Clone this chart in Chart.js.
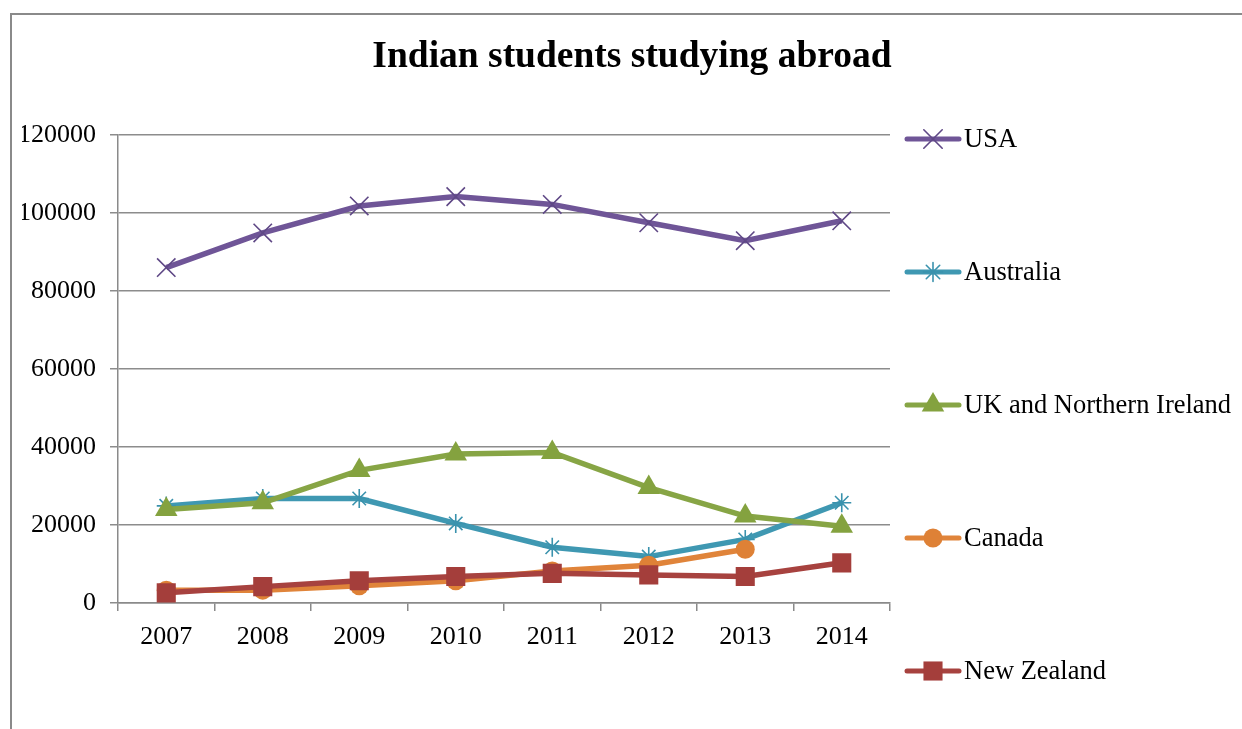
<html>
<head>
  <script src="https://cdn.jsdelivr.net/npm/chart.js@4/dist/chart.umd.min.js"></script>
  <style>
    body { margin: 0; background: #fff; }
    #wrap { position: relative; width: 1242px; height: 729px; }
    #frame { position: absolute; left: 10px; top: 13px; width: 1300px; height: 800px;
             border-left: 2px solid #8a8a8a; border-top: 2px solid #8a8a8a; }
  </style>
</head>
<body>
<div id="wrap">
  <div id="frame"></div>
  <canvas id="myChart"></canvas>
</div>
<script>

const years = ['2007', '2008', '2009', '2010', '2011', '2012', '2013', '2014'];

const usa       = [86000, 94900, 101800, 104200, 102200, 97500, 92900, 98000];
const australia = [24900, 26800, 26800, 20400, 14300, 11900, 16300, 25700];
const uk        = [24000, 25700, 34000, 38200, 38600, 29600, 22300, 19700];
const canada    = [3300, 3300, 4400, 5700, 8200, 9700, 13800, null];
const newZealand = [2600, 4200, 5700, 6800, 7600, 7200, 6800, 10300];

const yTicks = [0, 20000, 40000, 60000, 80000, 100000, 120000];

const serif = '"Liberation Serif", "Times New Roman", serif';

function series(label, values, color, markerColor, style, radius, order) {
  return {
    label: label,
    data: values,
    borderColor: color,
    backgroundColor: color,
    borderWidth: 5.5,
    pointStyle: style,
    pointRadius: radius,
    pointHoverRadius: radius,
    pointBackgroundColor: markerColor,
    pointBorderColor: markerColor,
    pointBorderWidth: (style === 'crossRot' || style === 'star') ? 1.6 : 0,
    tension: 0,
    order: order
  };
}

const data = {
  labels: years,
  datasets: [
    series('USA', usa, '#6f5597', '#5f4886', 'crossRot', 13, 4),
    series('Australia', australia, '#3f98b2', '#3a92ad', 'star', 9.5, 3),
    series('UK and Northern Ireland', uk, '#87a545', '#84a23f', 'triangle', 13, 2),
    series('Canada', canada, '#e0843a', '#de8136', 'circle', 9.5, 1),
    series('New Zealand', newZealand, '#a7423f', '#a43e3b', 'rect', 13.5, 0)
  ]
};

// legend on the right: short line with the series marker, then the name
const sideLegend = {
  id: 'sideLegend',
  afterDraw(chart) {
    const ctx = chart.ctx;
    chart.data.datasets.forEach((ds, i) => {
      const y = 139 + i * 133;
      ctx.save();
      ctx.strokeStyle = ds.borderColor;
      ctx.lineWidth = 5;
      ctx.lineCap = 'round';
      ctx.beginPath();
      ctx.moveTo(907, y);
      ctx.lineTo(959, y);
      ctx.stroke();
      ctx.fillStyle = ds.pointBackgroundColor;
      ctx.strokeStyle = ds.pointBorderColor;
      ctx.lineWidth = ds.pointBorderWidth || 1;
      Chart.helpers.drawPoint(ctx, {
        pointStyle: ds.pointStyle,
        radius: ds.pointRadius,
        rotation: 0,
        borderWidth: ds.pointBorderWidth
      }, 933, y);
      ctx.fillStyle = '#000';
      ctx.font = '26.5px ' + serif;
      ctx.textBaseline = 'middle';
      ctx.textAlign = 'left';
      ctx.fillText(ds.label, 964, y + 1);
      ctx.restore();
    });
  }
};

const config = {
  type: 'line',
  data: data,
  options: {
    maintainAspectRatio: false,
    responsive: true,
    animation: false,
    layout: { padding: { left: 22, right: 0, top: 0, bottom: 0 } },
    plugins: {
      legend: { display: false },
      tooltip: { enabled: false },
      title: {
        display: true,
        text: 'Indian students studying abroad',
        color: '#000',
        font: { family: serif, size: 37.5, weight: 'bold', lineHeight: 1.2 },
        padding: { top: 35, bottom: 55 }
      }
    },
    scales: {
      x: {
        offset: true,
        grid: {
          offset: true,
          drawOnChartArea: false,
          drawTicks: true,
          tickLength: 8,
          color: '#8a8a8a',
          lineWidth: 1.5
        },
        border: { color: '#8a8a8a', width: 1.5 },
        ticks: {
          color: '#000',
          font: { family: serif, size: 26 },
          padding: 11,
          maxRotation: 0
        },
        afterFit: s => { s.height = 126; }
      },
      y: {
        min: 0,
        max: 120000,
        afterBuildTicks: s => { s.ticks = yTicks.map(v => ({ value: v })); },
        grid: {
          color: '#8c8c8c',
          lineWidth: 1.5,
          tickLength: 8
        },
        border: { color: '#8a8a8a', width: 1.5 },
        ticks: {
          color: '#000',
          font: { family: serif, size: 26 },
          padding: 14,
          callback: v => String(v)
        },
        afterFit: s => { s.width = 96; }
      },
      spacer: {
        position: 'right',
        display: true,
        grid: { display: false },
        border: { display: false },
        ticks: { display: false },
        afterFit: s => { s.width = 352; }
      }
    }
  },
  plugins: [sideLegend]
};

var ctx = document.getElementById('myChart');
var myChart = new Chart(ctx, config);

</script>
</body>
</html>
